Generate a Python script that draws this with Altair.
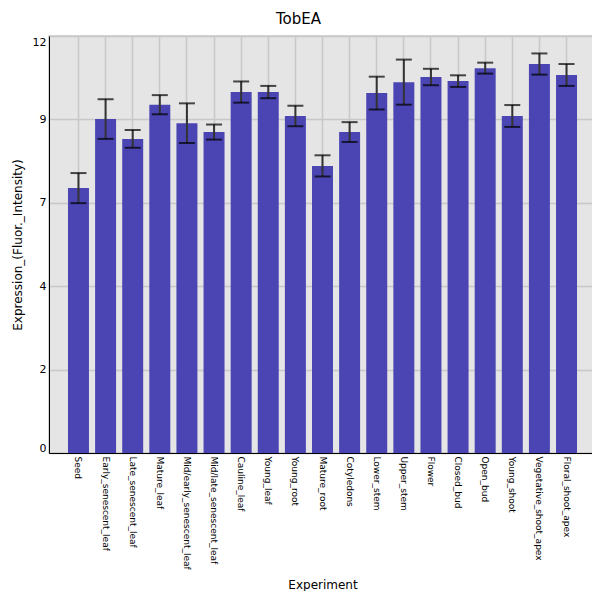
import altair as alt
import pandas as pd

experiments = ["Seed", "Early_senescent_leaf", "Late_senescent_leaf", "Mature_leaf",
               "Mid/early_senescent_leaf", "Mid/late_senescent_leaf", "Cauline_leaf",
               "Young_leaf", "Young_root", "Mature_root", "Cotyledons", "Lower_stem",
               "Upper_stem", "Flower", "Closed_bud", "Open_bud", "Young_shoot",
               "Vegetative_shoot_apex", "Floral_shoot_apex"]
means = [7.75, 9.77, 9.19, 10.19, 9.65, 9.39, 10.56, 10.56, 9.86, 8.40, 9.39, 10.53,
         10.85, 11.00, 10.88, 11.26, 9.86, 11.38, 11.06]
sds = [0.44, 0.58, 0.26, 0.28, 0.58, 0.22, 0.31, 0.18, 0.30, 0.31, 0.29, 0.48,
       0.66, 0.24, 0.17, 0.16, 0.32, 0.31, 0.32]
y_max = 12.2
y_ticks = [0, y_max / 5, 2 * y_max / 5, 3 * y_max / 5, 4 * y_max / 5, y_max]

df = pd.DataFrame({"Experiment": experiments, "mean": means, "sd": sds})
df["lo"] = df["mean"] - df["sd"]
df["hi"] = df["mean"] + df["sd"]

FONT = "DejaVu Sans"

x_enc = alt.X("Experiment:N", sort=experiments, title="Experiment",
              scale=alt.Scale(paddingInner=0.226, paddingOuter=0.7),
              axis=alt.Axis(labelAngle=90, labelFontSize=9, labelColor="black",
                            labelPadding=3, ticks=False, grid=True,
                            gridColor="#c8c8c8", gridWidth=1.5,
                            domainColor="black", titleFontSize=12,
                            titleFontWeight="normal", titleColor="black",
                            titleY=131, titleBaseline="middle"))

y_scale = alt.Scale(domain=[0, y_max], nice=False)

bars = alt.Chart(df).mark_bar(color="#4b45b3").encode(
    x=x_enc,
    y=alt.Y("mean:Q", scale=y_scale, title="Expression_(Fluor._Intensity)",
            axis=alt.Axis(values=y_ticks, labelExpr="floor(datum.value)",
                          labelFlush=True, labelFontSize=11, labelColor="black",
                          labelPadding=3, ticks=False, grid=True,
                          gridColor="#c8c8c8", gridWidth=1.5,
                          domainColor="black", titleFontSize=12,
                          titleFontWeight="normal", titleColor="black",
                          titlePadding=8)),
)

rules = alt.Chart(df).mark_rule(color="#333333", strokeWidth=2).encode(
    x=alt.X("Experiment:N", sort=experiments),
    y=alt.Y("lo:Q", scale=y_scale),
    y2="hi:Q",
)

caps_lo = alt.Chart(df).mark_tick(color="black", thickness=2, size=16).encode(
    x=alt.X("Experiment:N", sort=experiments),
    y=alt.Y("lo:Q", scale=y_scale),
)
caps_hi = alt.Chart(df).mark_tick(color="black", thickness=2, size=16).encode(
    x=alt.X("Experiment:N", sort=experiments),
    y=alt.Y("hi:Q", scale=y_scale),
)

chart = alt.layer(bars, rules, caps_lo, caps_hi).properties(
    width=547, height=417,
    title=alt.TitleParams("TobEA", fontSize=15, fontWeight="normal", color="black",
                          font=FONT, anchor="middle", frame="group", dx=-24,
                          offset=9),
    autosize=alt.AutoSizeParams(type="none"),
    padding={"left": 41, "top": 28, "right": -4, "bottom": 138},
).configure(
    font=FONT,
    background="white",
).configure_view(
    fill="#e5e5e5", stroke="#c8c8c8", strokeWidth=1.5,
).configure_axis(
    labelFont=FONT, titleFont=FONT,
)

chart.save("out.html", embed_options={"renderer": "svg", "actions": False})
